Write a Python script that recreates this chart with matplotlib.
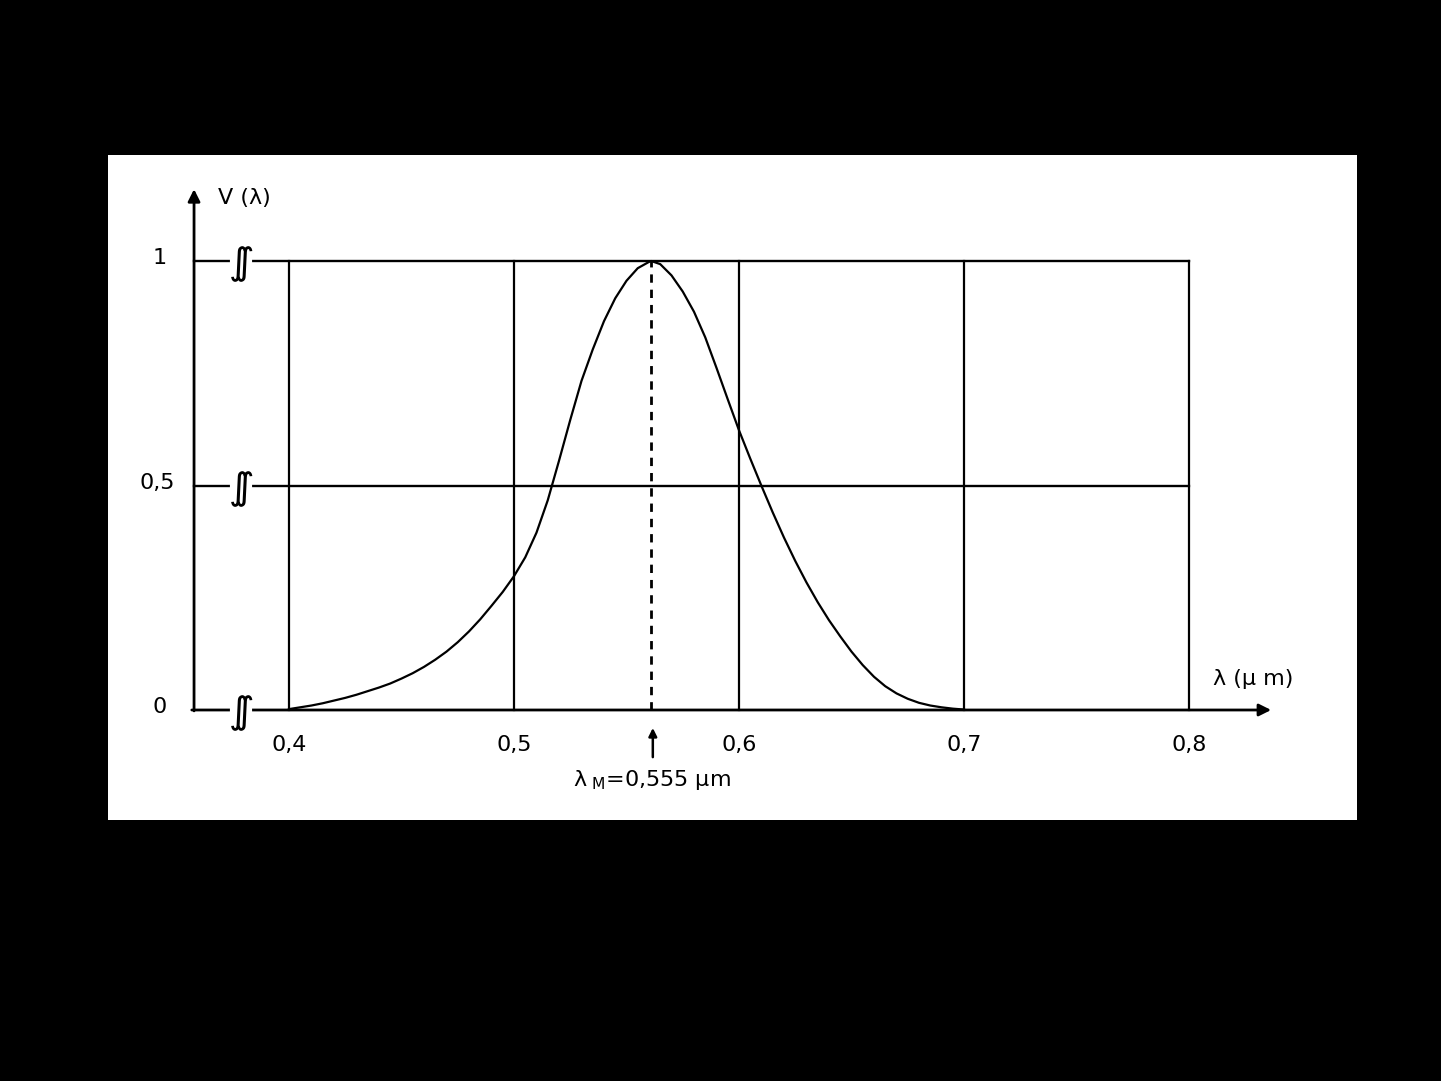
import numpy as np
import matplotlib.pyplot as plt

plt.rcParams['font.family'] = ['DejaVu Sans']

# V(lambda) curve
wl = [0.40, 0.405, 0.41, 0.415, 0.42, 0.425, 0.43, 0.435, 0.44, 0.445,
      0.45, 0.455, 0.46, 0.465, 0.47, 0.475, 0.48, 0.485, 0.49, 0.495,
      0.50, 0.505, 0.51, 0.515, 0.52, 0.525, 0.53, 0.535, 0.54, 0.545,
      0.55, 0.555, 0.56, 0.561, 0.565, 0.57, 0.575, 0.58, 0.585, 0.59,
      0.595, 0.60, 0.605, 0.61, 0.615, 0.62, 0.625, 0.63, 0.635, 0.64,
      0.645, 0.65, 0.655, 0.66, 0.665, 0.67, 0.675, 0.68, 0.685, 0.69,
      0.695, 0.70]
V = [0.002, 0.006, 0.010, 0.015, 0.021, 0.027, 0.034, 0.042, 0.050, 0.059,
     0.070, 0.082, 0.096, 0.112, 0.130, 0.151, 0.175, 0.202, 0.232, 0.263,
     0.298, 0.340, 0.395, 0.467, 0.555, 0.646, 0.733, 0.803, 0.866, 0.917,
     0.956, 0.984, 0.998, 1.0, 0.993, 0.968, 0.932, 0.887, 0.830, 0.762,
     0.692, 0.623, 0.560, 0.499, 0.440, 0.384, 0.332, 0.284, 0.240, 0.200,
     0.164, 0.130, 0.100, 0.074, 0.053, 0.037, 0.025, 0.016, 0.010, 0.006,
     0.003, 0.001]

xgrid = [0.4, 0.5, 0.6, 0.7, 0.8]
xlabels = ['0,4', '0,5', '0,6', '0,7', '0,8']
ygrid = [0, 0.5, 1]
ylabels = ['0', '0,5', '1']
peak = 0.561

fig = plt.figure(figsize=(14.41, 10.81), dpi=100, facecolor='black')
ax = fig.add_axes([108/1441, 261/1081, 1249/1441, 665/1081])
ax.set_facecolor('white')
ax.set_xlim(0.31956, 0.87467)
ax.set_ylim(-0.245, 1.2361)
for s in ax.spines.values():
    s.set_visible(False)
ax.set_xticks([])
ax.set_yticks([])

x0 = 0.3578   # left axis position
xb = 0.3785   # break marks

# grid
for x in xgrid:
    ax.plot([x, x], [0, 1], color='black', lw=1.6)
for y in [0.5, 1]:
    ax.plot([x0, 0.8], [y, y], color='black', lw=1.7)

# axes with arrows
ax.annotate('', xy=(x0, 1.16), xytext=(x0, -0.002),
            arrowprops=dict(arrowstyle='-|>', color='black', lw=2,
                            mutation_scale=18, shrinkA=0, shrinkB=0))
ax.annotate('', xy=(0.8365, 0), xytext=(x0 - 0.001, 0),
            arrowprops=dict(arrowstyle='-|>', color='black', lw=2,
                            mutation_scale=18, shrinkA=0, shrinkB=0))

# break marks
for y in ygrid:
    ax.plot([xb - 0.004, xb + 0.004], [y, y], color='white', lw=3, zorder=3)
    ax.text(xb, y - 0.008, r'$\int\!\!\!\int$', fontsize=19, ha='center',
            va='center', zorder=4)

# curve and peak
ax.plot(wl, V, color='black', lw=1.6)
ax.plot([peak, peak], [0, 1], color='black', lw=2, ls=(0, (3, 2.5)))

# tick labels
for x, lab in zip(xgrid, xlabels):
    ax.text(x, -0.078, lab, fontsize=16, ha='center', va='center')
for y, lab in zip(ygrid, ylabels):
    ax.text(0.3413 if lab == '0,5' else 0.3427, y + 0.006, lab, fontsize=16,
            ha='center', va='center')

ax.text(0.3685, 1.14, 'V (λ)', fontsize=16, ha='left', va='center')
ax.text(0.8105, 0.07, 'λ (µ m)', fontsize=16, ha='left', va='center')
ax.annotate('', xy=(peak + 0.0007, -0.04), xytext=(peak + 0.0007, -0.105),
            arrowprops=dict(arrowstyle='-|>', color='black', lw=1.8,
                            mutation_scale=12, shrinkA=0, shrinkB=0))
ax.text(peak + 0.0005, -0.155, r'λ$_{\rm\ M}$=0,555 µm', fontsize=16,
        ha='center', va='center')

fig.savefig('out.png', dpi=100, facecolor='black')
